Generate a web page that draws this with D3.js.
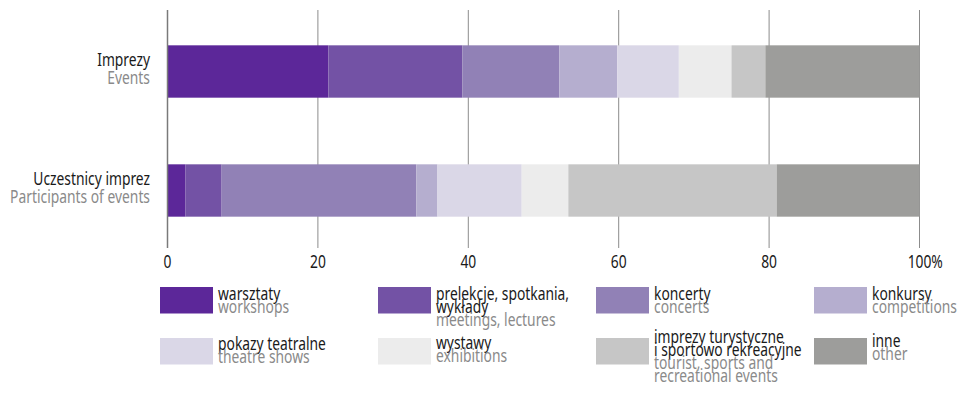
<!DOCTYPE html>
<html><head><meta charset="utf-8">
<script src="https://cdn.jsdelivr.net/npm/d3@7"></script>
<style>
body{margin:0;background:#fff;}
svg text{font-family:"Noto Sans","Open Sans",sans-serif;}
</style></head>
<body><svg id="c" width="962" height="394"></svg>
<script>
const categoriesPl = ["Imprezy", "Uczestnicy imprez"];
const categoriesEn = ["Events", "Participants of events"];
const keys = ["warsztaty","prelekcje","koncerty","konkursy","pokazy","wystawy","turystyczne","inne"];
const eventsValues = [21.4, 17.8, 12.9, 7.7, 8.2, 7.0, 4.5, 20.5];
const participantsValues = [2.4, 4.8, 25.9, 2.8, 11.2, 6.2, 27.7, 19.0];
const colors = ["#5c2799","#7352a5","#9181b6","#b5aecf","#dad7e7","#ececec","#c6c6c6","#9d9d9b"];
const ticks = [0, 20, 40, 60, 80, 100];
const legendPl = [["warsztaty"],["prelekcje, spotkania,","wykłady"],["koncerty"],["konkursy"],
  ["pokazy teatralne"],["wystawy"],["imprezy turystyczne","i sportowo rekreacyjne"],["inne"]];
const legendEn = [["workshops"],["meetings, lectures"],["concerts"],["competitions"],
  ["theatre shows"],["exhibitions"],["tourist, sports and","recreational events"],["other"]];

const svg = d3.select("#c");
const FS = 18;
// condensed-font emulation: horizontal compression factor
const probe = svg.append("text").attr("font-size",FS).text("Participants of events");
const K = 140 / probe.node().getComputedTextLength();
probe.remove();

function label(parent, tx, ty, str, color, anchor){
  const g = parent.append("g").attr("transform",`translate(${tx},${ty}) scale(${K},1)`);
  return g.append("text").attr("font-size",FS).attr("fill",color)
    .attr("text-anchor",anchor||"start").text(str);
}

const x = d3.scaleLinear().domain([0,100]).range([167.5, 919.5]);
const y = d3.scaleBand().domain(categoriesPl).range([12, 250]).paddingInner(0.56).paddingOuter(0.28);

const rows = categoriesPl.map((c,i)=>{
  const o = {cat:c};
  const vals = i===0 ? eventsValues : participantsValues;
  keys.forEach((k,j)=>o[k]=vals[j]);
  return o;
});
const stack = d3.stack().keys(keys)(rows);

// gridlines
svg.append("g").selectAll("line").data(ticks.slice(1)).join("line")
  .attr("x1",d=>x(d)).attr("x2",d=>x(d)).attr("y1",10).attr("y2",248)
  .attr("stroke","#8c8c8c").attr("stroke-width",1);

// bars
svg.append("g").selectAll("g").data(stack).join("g")
  .attr("fill",(d,i)=>colors[i])
  .selectAll("rect").data(d=>d).join("rect")
  .attr("x",d=>x(d[0])).attr("width",d=>x(d[1])-x(d[0]))
  .attr("y",d=>y(d.data.cat)).attr("height",y.bandwidth());

// left axis line
svg.append("line").attr("x1",x(0)).attr("x2",x(0)).attr("y1",10).attr("y2",248)
  .attr("stroke","#7a7a7a").attr("stroke-width",1.5);

// tick labels
const tg = svg.append("g");
ticks.forEach(d=>{
  const t = label(tg, x(d), 268, String(d), "#1a1a1a", "start");
  const w = t.node().getComputedTextLength();
  t.attr("x", -w/2);
  if(d===100) t.append("tspan").text("%");
});

// category labels
categoriesPl.forEach((c,i)=>{
  const cy = y(c)+y.bandwidth()/2;
  label(svg, 150, cy-6, c, "#1a1a1a", "end");
  label(svg, 150, cy+12, categoriesEn[i], "#8a8a8a", "end");
});

// legend
const colX = [160, 378, 596, 814];
const rowY = [287, 338];
const firstBase = [[300,300,300,300],[350,349,343,347]];
keys.forEach((k,i)=>{
  const c = i%4, r = Math.floor(i/4);
  const g = svg.append("g");
  g.append("rect").attr("x",colX[c]).attr("y",rowY[r]).attr("width",53).attr("height",26.5)
    .attr("fill",colors[i]);
  let by = firstBase[r][c];
  legendPl[i].forEach(t=>{
    label(g, colX[c]+58, by, t, "#1a1a1a");
    by += 13;
  });
  legendEn[i].forEach(t=>{
    label(g, colX[c]+58, by, t, "#8a8a8a");
    by += 13;
  });
});
</script></body></html>
